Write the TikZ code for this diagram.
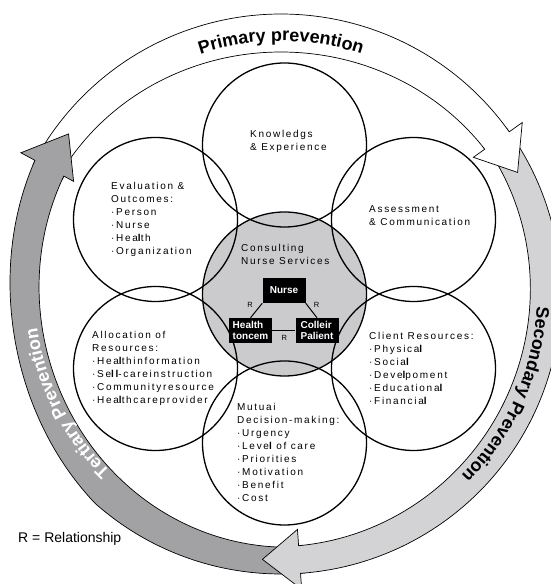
\documentclass[tikz,border=0pt]{standalone}
\usepackage{fontspec}
\setmainfont{Liberation Sans}
\newfontfamily\lblfont{Liberation Sans}[LetterSpace=17]
\usetikzlibrary{decorations.text}
\definecolor{cgray}{HTML}{CBCBCD}
\definecolor{lgray}{HTML}{D3D3D5}
\definecolor{dgray}{HTML}{A2A2A4}
\newcommand\bl{{\bfseries l}}
\tikzset{declare function={
  rin(\t,\m,\d)=254-\d*(cos(\t-\m))^2;
  rout(\t,\c,\a)=280-\a*max(0,cos(2.34*(\t-\c)));}}
% band: #1 start, #2 base, #3 colour, #4 m, #5 d, #6 c, #7 a
\newcommand\bandpath[7]{%
  \fill[#3] plot[domain=#2:#1,samples=120] (\x:{rout(\x,#6,#7)}) -- plot[domain=#2:#1,samples=120] ({#1+#2-\x}:{rin(#1+#2-\x,#4,#5)}) -- cycle;
  \draw[ringline] plot[domain=#2:#1,samples=120] (\x:{rout(\x,#6,#7)});
  \draw[ringline] plot[domain=#2:#1,samples=120] (\x:{rin(\x,#4,#5)});}
% head: #1 base, #2 tip, #3 colour, #4 m, #5 d, #6 c, #7 a
\newcommand\headpath[7]{%
  \fill[#3] ({#1+1}:{rout(#1+1,#6,#7)}) -- (#1:{rout(#1,#6,#7)}) -- (#1:296) -- (#2:266) -- (#1:236) -- (#1:{rin(#1,#4,#5)}) -- ({#1+1}:{rin(#1+1,#4,#5)}) -- cycle;
  \draw[ringline,line join=miter] ({#1+1}:{rout(#1+1,#6,#7)}) -- (#1:{rout(#1,#6,#7)}) -- (#1:296) -- (#2:266) -- (#1:236) -- (#1:{rin(#1,#4,#5)}) -- ({#1+1}:{rin(#1+1,#4,#5)});}
\begin{document}
\begin{tikzpicture}[x=1pt,y=1pt,
  ringline/.style={draw=black,line width=0.7pt},
  bubble/.style={circle,draw=black,line width=1.3pt,minimum size=164pt,inner sep=0pt},
  lbl/.style={font=\fontsize{10}{12.9}\selectfont\lblfont,align=left,anchor=north west,inner sep=0pt},
  blackbox/.style={fill=black,text=white,font=\fontsize{10}{11}\selectfont\bfseries,align=left,inner sep=1pt,minimum width=43pt,minimum height=25pt},
  rel/.style={font=\fontsize{7.5}{8}\selectfont,inner sep=0pt},
  link/.style={draw=black,line width=1pt},
  ringtext/.style={decorate,decoration={text along path,text align=center,text={#1}}}
]
\useasboundingbox (0,0) rectangle (550,584);
% ---------- outer ring of prevention arrows ----------
\begin{scope}[shift={(281,290)}]
  \bandpath{150}{35.4}{white}{90}{12}{0}{0}
  \bandpath{32}{-86}{lgray}{-28}{6}{0}{0}
  \bandpath{271}{151.5}{dgray}{195}{13}{190}{10}
  \headpath{35.4}{27.2}{white}{90}{12}{0}{0}
  \headpath{-86}{-94}{lgray}{-28}{6}{0}{0}
  \headpath{151.5}{143}{dgray}{195}{13}{190}{10}
  \path[ringtext={|\fontsize{18}{18}\selectfont\bfseries|Primary prevention}] (160:253) arc[start angle=160,end angle=20,radius=253];
  \path[ringtext={|\fontsize{18}{18}\selectfont\bfseries|Secondary Prevention}] (46:256) arc[start angle=46,end angle=-94,radius=256];
  \path[ringtext={|\color{white}\fontsize{18}{18}\selectfont\bfseries|Tertiary Prevention}] (277:246) arc[start angle=277,end angle=137,radius=246];
\end{scope}
% ---------- circles ----------
\node[bubble,fill=cgray] (cns) at (284.5,290) {};
\node[bubble] (ke) at (284.5,439) {};
\node[bubble] (ac) at (413.5,364.5) {};
\node[bubble] (cr) at (413.5,215.5) {};
\node[bubble] (md) at (284.5,141) {};
\node[bubble] (ar) at (155.5,215.5) {};
\node[bubble] (eo) at (155.5,364.5) {};
% ---------- texts ----------
\node[lbl] (tke) at (250,454) {Knowledgs\\\& Experience};
\node[lbl] (tac) at (369,378.6) {Assessment\\\& Communication};
\node[lbl] (teo) at (111,401.6) {Evaluation \&\\Outcomes:\\·Person\\·Nurse\\·Hea\bl th\\·Organization};
\node[lbl] (tcns) at (241,339.6) {Consulting\\Nurse Services};
\node[lbl] (tcr) at (369,251.6) {Client Resources:\\·Physica\bl\\·Socia\bl\\·Deve\bl poment\\·Educationa\bl\\·Financia\bl};
\node[lbl] (tar) at (92,252.6) {Allocation of\\Resources:\\·Hea\bl thinformation\\·Se\bl\bl-careinstruction\\·Communityresource\\·Hea\bl thcareprovider};
\node[lbl] (tmd) at (237,180.6) {Mutuai\\Decision-making:\\·Urgency\\·Leve\bl{} of care\\·Priorities\\·Motivation\\·Benefit\\·Cost};
% ---------- relationship triangle ----------
\node[blackbox] (nurse) at (284,293.5) {Nurse};
\node[blackbox] (hc) at (250.5,253.5) {Health\\toncem};
\node[blackbox] (cp) at (317,253.5) {Colleir\\Palient};
\draw[link] (nurse.south west) -- (hc.north);
\draw[link] (nurse.south east) -- (cp.north);
\draw[link] (hc.east) -- (cp.west);
\node[rel] (r1) at (250,279) {R};
\node[rel] (r2) at (316.7,279) {R};
\node[rel] (r3) at (284.3,245.7) {R};
% ---------- legend ----------
\node[font=\fontsize{14}{16}\selectfont,anchor=west,inner sep=0pt] (legend) at (18,45) {R = Relationship};
\end{tikzpicture}
\end{document}
